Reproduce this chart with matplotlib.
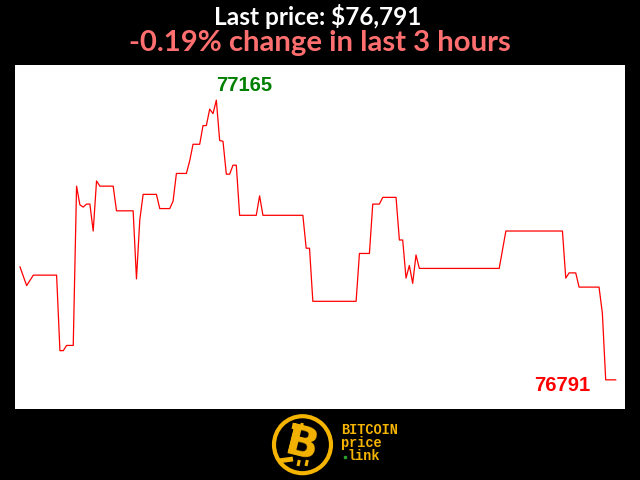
import matplotlib
matplotlib.use('Agg')
import matplotlib.pyplot as plt
from matplotlib.patches import Circle, Ellipse

# minutes over the last 3 hours and BTC price at each change point
minutes = [0, 2, 4, 11, 12, 13, 14, 16, 17, 18, 19, 20, 21, 22, 23, 24, 28, 29,
           34, 35, 36, 37, 41, 42, 45, 46, 47, 50, 51, 52, 54, 55, 56, 57, 58,
           59, 60, 61, 62, 63, 64, 65, 66, 71, 72, 73, 85, 86, 87, 88, 101, 102,
           105, 106, 108, 109, 113, 114, 115, 116, 117, 118, 119, 120, 144, 146,
           163, 164, 165, 167, 168, 174, 175, 176, 179]
prices = [76942, 76917, 76931, 76931, 76830, 76830, 76837, 76837, 77050, 77025,
          77022, 77026, 77026, 76990, 77057, 77050, 77050, 77017, 77017, 76926,
          77005, 77039, 77039, 77020, 77020, 77030, 77067, 77067, 77084, 77106,
          77106, 77131, 77131, 77153, 77147, 77165, 77111, 77110, 77066, 77066,
          77078, 77078, 77011, 77011, 77037, 77011, 77011, 76967, 76967, 76896,
          76896, 76960, 76960, 77026, 77026, 77035, 77035, 76978, 76978, 76927,
          76944, 76920, 76958, 76940, 76940, 76990, 76990, 76927, 76934, 76934,
          76915, 76915, 76880, 76791, 76791]

last_price = prices[-1]
change_pct = -0.19

fig = plt.figure(figsize=(6.4, 4.8), dpi=100, facecolor='black')

# main price chart (white panel, no axes decoration)
ax = fig.add_axes([15 / 640, 1 - 409 / 480, 610 / 640, 344 / 480])
ax.set_facecolor('white')
ax.plot(minutes, prices, color='#ff0000', linewidth=0.9)
ax.set_xlim(-1.5, 181.8)
ax.set_ylim(76752, 77212)
ax.set_xticks([])
ax.set_yticks([])
for s in ax.spines.values():
    s.set_visible(False)

# max / last labels
i_max = prices.index(max(prices))
ax.annotate(f'{max(prices)}', (minutes[i_max], prices[i_max]),
            xytext=(0, 6.5), textcoords='offset points',
            ha='left', va='baseline', color='#008000',
            fontsize=14.5, fontweight='bold', family='Liberation Sans')
ax.annotate(f'{last_price}', (minutes[-1], prices[-1]),
            xytext=(-18.5, -7.7), textcoords='offset points',
            ha='right', va='baseline', color='#ff0000',
            fontsize=14.5, fontweight='bold', family='Liberation Sans')

# header
fig.text(0.497, 1 - 25 / 480, f'Last price: ${last_price:,}', ha='center',
         va='baseline', color='white', fontsize=17.6, fontweight='bold',
         family='Lato')
fig.text(0.5, 1 - 51 / 480, f'{change_pct:.2f}% change in last 3 hours',
         ha='center', va='baseline', color='#ff6f6f', fontsize=21.1,
         fontweight='bold', family='Lato')

# logo, drawn in pixel coordinates
lax = fig.add_axes([0, 0, 1, 1])
lax.set_xlim(0, 640)
lax.set_ylim(480, 0)
lax.axis('off')
lax.patch.set_alpha(0)
gold = '#f5b400'
lax.add_patch(Circle((302.5, 444.7), 28.5, fill=False, edgecolor=gold, linewidth=3))
lax.text(302, 445, 'B', ha='center', va='center', rotation=-14, color=gold,
         fontsize=31, fontweight='heavy', family='DejaVu Sans')
lax.plot([278, 293], [461, 459], color=gold, linewidth=3.5, solid_capstyle='butt')
for x0 in (293, 301):
    lax.plot([x0, x0 + 1.3], [429, 423], color=gold, linewidth=2.2, solid_capstyle='butt')
for x0 in (298, 306):
    lax.plot([x0, x0 + 1.3], [466, 460], color=gold, linewidth=2.2, solid_capstyle='butt')
lax.add_patch(Ellipse((287.5, 439), 4, 8, angle=-14, fill=False, edgecolor='black', linewidth=1))
lax.add_patch(Ellipse((289, 447), 4, 8, angle=-14, fill=False, edgecolor='black', linewidth=1))

lax.text(341, 433.5, 'BITCOIN', ha='left', va='baseline', color=gold,
         fontsize=9.8, fontweight='bold', family='Liberation Mono')
lax.text(341, 447, 'price', ha='left', va='baseline', color=gold,
         fontsize=9.8, fontweight='bold', family='Liberation Mono')
lax.text(347.5, 460.5, 'link', ha='left', va='baseline', color=gold,
         fontsize=9.8, fontweight='bold', family='Liberation Mono')
lax.plot([345], [457], marker='s', markersize=2, color='#2e9e2e', linestyle='none')

fig.savefig('out.png', dpi=100, facecolor='black')
